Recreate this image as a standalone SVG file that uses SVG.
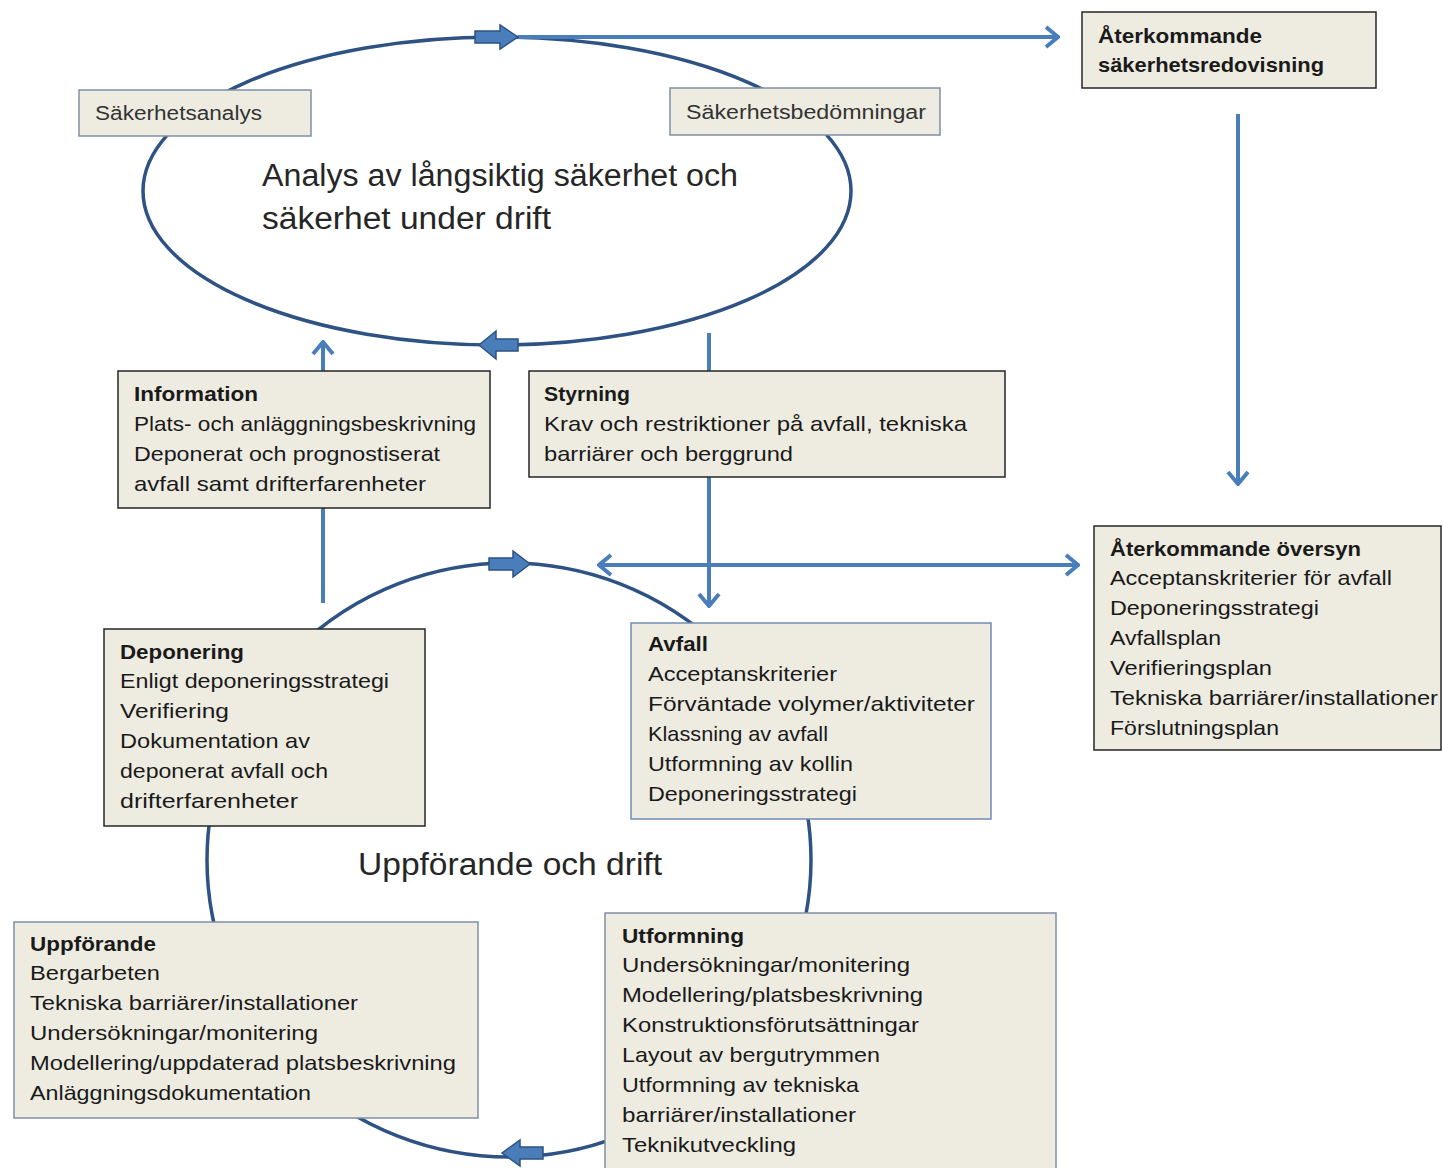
<svg xmlns="http://www.w3.org/2000/svg" width="1443" height="1168" viewBox="0 0 1443 1168">
<defs>
<style>
.bg{fill:#ffffff}
.box{fill:#EEECE1;stroke:#262626;stroke-width:1.5}
.boxb{fill:#EEECE1;stroke:#6F8DB5;stroke-width:1.5}
.boxg{fill:#EEECE1;stroke:#7F90A6;stroke-width:1.5}
.cyc{fill:none;stroke:#2E5283;stroke-width:3.5}
.con{fill:none;stroke:#4A7EBB;stroke-width:4}
.blk{fill:#4A7EBB;stroke:#2E5283;stroke-width:1.5}
text{font-family:"Liberation Sans",Arial,sans-serif;fill:#1a1a1a}
.t{font-size:21px}
.h{font-size:21px;font-weight:bold}
.s{font-size:20px;fill:#333}
.big{font-size:31px;fill:#262626}
</style>
<marker id="ah" viewBox="0 0 16 24" refX="14" refY="12" markerWidth="16" markerHeight="24" markerUnits="userSpaceOnUse" orient="auto-start-reverse">
<path d="M2,2 L14,12 L2,22" fill="none" stroke="#4A7EBB" stroke-width="4"/>
</marker>
</defs>
<rect class="bg" x="0" y="0" width="1443" height="1168"/>

<g id="connectors">
<ellipse class="cyc" cx="497" cy="191" rx="354" ry="154"/>
<ellipse class="cyc" cx="509" cy="860" rx="302" ry="297"/>
<path class="con" d="M518,37 L1058,37" marker-end="url(#ah)"/>
<path class="con" d="M1238,114 L1238,484" marker-end="url(#ah)"/>
<path class="con" d="M599,565 L1078,565" marker-start="url(#ah)" marker-end="url(#ah)"/>
<path class="con" d="M709,333 L709,372"/>
<path class="con" d="M709,477 L709,606" marker-end="url(#ah)"/>
<path class="con" d="M323,371 L323,342" marker-end="url(#ah)"/>
<path class="con" d="M323,508 L323,603"/>
<path class="blk" d="M475,31 L500,31 L500,25 L518,37 L500,49 L500,43 L475,43 Z"/>
<path class="blk" d="M518,339 L496,339 L496,331 L479,345 L496,359 L496,351 L518,351 Z"/>
<path class="blk" d="M489,558 L513,558 L513,551 L530,564 L513,577 L513,570 L489,570 Z"/>
<path class="blk" d="M543,1147 L520,1147 L520,1140 L502,1153 L520,1166 L520,1159 L543,1159 Z"/>
</g>

<g id="top-cycle-label">
<text class="big" x="262" y="186" textLength="476" lengthAdjust="spacingAndGlyphs">Analys av långsiktig säkerhet  och</text>
<text class="big" x="262" y="229" textLength="289" lengthAdjust="spacingAndGlyphs">säkerhet under drift</text>
</g>

<g id="bottom-cycle-label">
<text class="big" x="358" y="875" textLength="304" lengthAdjust="spacingAndGlyphs">Uppförande och drift</text>
</g>

<g id="sakerhetsanalys">
<rect class="boxg" x="79" y="90" width="232" height="46"/>
<text class="s" x="95" y="120" textLength="167" lengthAdjust="spacingAndGlyphs">Säkerhetsanalys</text>
</g>

<g id="sakerhetsbedomningar">
<rect class="boxg" x="670" y="88" width="270" height="47"/>
<text class="s" x="686" y="119" textLength="240" lengthAdjust="spacingAndGlyphs">Säkerhetsbedömningar</text>
</g>

<g id="redovisning">
<rect class="box" x="1082" y="12" width="294" height="76"/>
<text class="h" x="1098" y="43" textLength="164" lengthAdjust="spacingAndGlyphs">Återkommande</text>
<text class="h" x="1098" y="72" textLength="226" lengthAdjust="spacingAndGlyphs">säkerhetsredovisning</text>
</g>

<g id="information">
<rect class="box" x="118" y="371" width="372" height="137"/>
<text class="h" x="134" y="401" textLength="124" lengthAdjust="spacingAndGlyphs">Information</text>
<text class="t" x="134" y="431" textLength="342" lengthAdjust="spacingAndGlyphs">Plats- och anläggningsbeskrivning</text>
<text class="t" x="134" y="461" textLength="306" lengthAdjust="spacingAndGlyphs">Deponerat och prognostiserat</text>
<text class="t" x="134" y="491" textLength="292" lengthAdjust="spacingAndGlyphs">avfall samt drifterfarenheter</text>
</g>

<g id="styrning">
<rect class="box" x="529" y="371" width="476" height="106"/>
<text class="h" x="544" y="401" textLength="86" lengthAdjust="spacingAndGlyphs">Styrning</text>
<text class="t" x="544" y="431" textLength="423" lengthAdjust="spacingAndGlyphs">Krav och restriktioner på  avfall,  tekniska</text>
<text class="t" x="544" y="461" textLength="249" lengthAdjust="spacingAndGlyphs">barriärer och  berggrund</text>
</g>

<g id="oversyn">
<rect class="box" x="1094" y="526" width="347" height="224"/>
<text class="h" x="1110" y="556" textLength="251" lengthAdjust="spacingAndGlyphs">Återkommande översyn</text>
<text class="t" x="1110" y="585" textLength="282" lengthAdjust="spacingAndGlyphs">Acceptanskriterier för avfall</text>
<text class="t" x="1110" y="615" textLength="209" lengthAdjust="spacingAndGlyphs">Deponeringsstrategi</text>
<text class="t" x="1110" y="645" textLength="111" lengthAdjust="spacingAndGlyphs">Avfallsplan</text>
<text class="t" x="1110" y="675" textLength="162" lengthAdjust="spacingAndGlyphs">Verifieringsplan</text>
<text class="t" x="1110" y="705" textLength="328" lengthAdjust="spacingAndGlyphs">Tekniska barriärer/installationer</text>
<text class="t" x="1110" y="735" textLength="169" lengthAdjust="spacingAndGlyphs">Förslutningsplan</text>
</g>

<g id="deponering">
<rect class="box" x="104" y="629" width="321" height="197"/>
<text class="h" x="120" y="659" textLength="124" lengthAdjust="spacingAndGlyphs">Deponering</text>
<text class="t" x="120" y="688" textLength="269" lengthAdjust="spacingAndGlyphs">Enligt deponeringsstrategi</text>
<text class="t" x="120" y="718" textLength="109" lengthAdjust="spacingAndGlyphs">Verifiering</text>
<text class="t" x="120" y="748" textLength="190" lengthAdjust="spacingAndGlyphs">Dokumentation av</text>
<text class="t" x="120" y="778" textLength="208" lengthAdjust="spacingAndGlyphs">deponerat avfall och</text>
<text class="t" x="120" y="808" textLength="178" lengthAdjust="spacingAndGlyphs">drifterfarenheter</text>
</g>

<g id="avfall">
<rect class="boxb" x="631" y="623" width="360" height="196"/>
<text class="h" x="648" y="651" textLength="60" lengthAdjust="spacingAndGlyphs">Avfall</text>
<text class="t" x="648" y="681" textLength="189" lengthAdjust="spacingAndGlyphs">Acceptanskriterier</text>
<text class="t" x="648" y="711" textLength="327" lengthAdjust="spacingAndGlyphs">Förväntade  volymer/aktiviteter</text>
<text class="t" x="648" y="741" textLength="180" lengthAdjust="spacingAndGlyphs">Klassning av avfall</text>
<text class="t" x="648" y="771" textLength="205" lengthAdjust="spacingAndGlyphs">Utformning av kollin</text>
<text class="t" x="648" y="801" textLength="209" lengthAdjust="spacingAndGlyphs">Deponeringsstrategi</text>
</g>

<g id="uppforande">
<rect class="boxg" x="14" y="922" width="464" height="196"/>
<text class="h" x="30" y="951" textLength="126" lengthAdjust="spacingAndGlyphs">Uppförande</text>
<text class="t" x="30" y="980" textLength="130" lengthAdjust="spacingAndGlyphs">Bergarbeten</text>
<text class="t" x="30" y="1010" textLength="328" lengthAdjust="spacingAndGlyphs">Tekniska barriärer/installationer</text>
<text class="t" x="30" y="1040" textLength="288" lengthAdjust="spacingAndGlyphs">Undersökningar/monitering</text>
<text class="t" x="30" y="1070" textLength="426" lengthAdjust="spacingAndGlyphs">Modellering/uppdaterad platsbeskrivning</text>
<text class="t" x="30" y="1100" textLength="281" lengthAdjust="spacingAndGlyphs">Anläggningsdokumentation</text>
</g>

<g id="utformning">
<rect class="boxg" x="605" y="913" width="451" height="260"/>
<text class="h" x="622" y="943" textLength="122" lengthAdjust="spacingAndGlyphs">Utformning</text>
<text class="t" x="622" y="972" textLength="288" lengthAdjust="spacingAndGlyphs">Undersökningar/monitering</text>
<text class="t" x="622" y="1002" textLength="301" lengthAdjust="spacingAndGlyphs">Modellering/platsbeskrivning</text>
<text class="t" x="622" y="1032" textLength="297" lengthAdjust="spacingAndGlyphs">Konstruktionsförutsättningar</text>
<text class="t" x="622" y="1062" textLength="258" lengthAdjust="spacingAndGlyphs">Layout av bergutrymmen</text>
<text class="t" x="622" y="1092" textLength="237" lengthAdjust="spacingAndGlyphs">Utformning av tekniska</text>
<text class="t" x="622" y="1122" textLength="234" lengthAdjust="spacingAndGlyphs">barriärer/installationer</text>
<text class="t" x="622" y="1152" textLength="174" lengthAdjust="spacingAndGlyphs">Teknikutveckling</text>
</g>
</svg>
